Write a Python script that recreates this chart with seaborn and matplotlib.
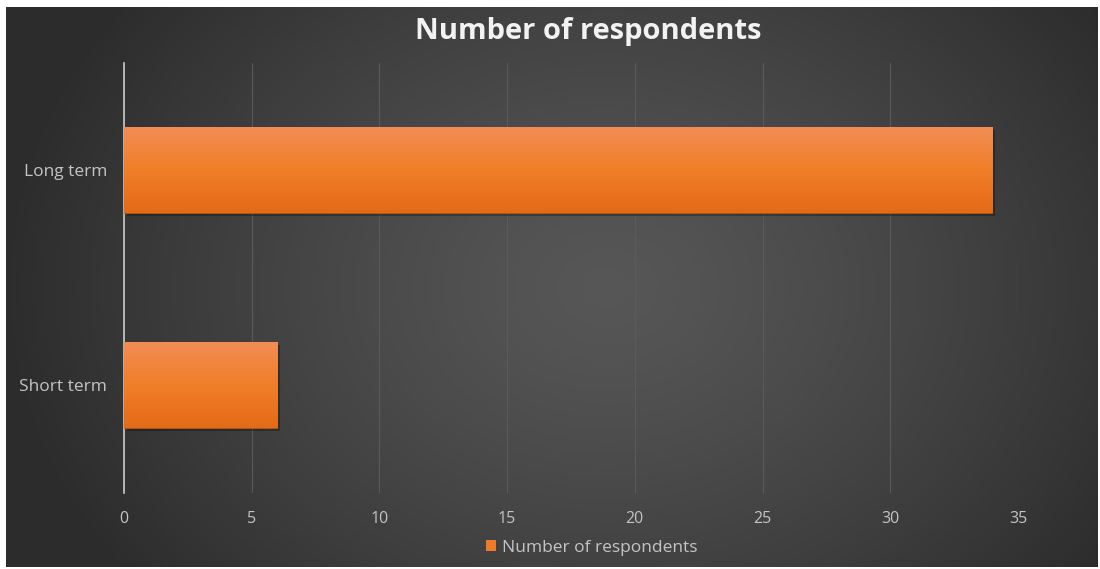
import numpy as np
import pandas as pd
import matplotlib
matplotlib.use("Agg")
import matplotlib.pyplot as plt
import matplotlib.patheffects as pe
from matplotlib.colors import LinearSegmentedColormap
import seaborn as sns

categories = ["Long term", "Short term"]
values = [34, 6]
series_name = "Number of respondents"
x_ticks = [0, 5, 10, 15, 20, 25, 30, 35]

sns.set_theme(style="white")
plt.rcParams["font.family"] = ["Open Sans", "DejaVu Sans"]

fig = plt.figure(figsize=(11, 5.69), dpi=100, facecolor="white")

# background panel with radial gradient
bg = fig.add_axes([0.005, 0.004, 0.992, 0.984], zorder=-10)
ny, nx = 300, 600
yy, xx = np.mgrid[0:ny, 0:nx]
cx, cy = nx * 0.55, ny * 0.5
r = np.sqrt(((xx - cx) / (nx * 0.55)) ** 2 + ((yy - cy) / (ny * 0.85)) ** 2)
r = np.clip(r, 0, 1)
val = 0.34 - 0.165 * r ** 1.3
bg.imshow(np.dstack([val, val, val]), aspect="auto", extent=[0, 1, 0, 1], interpolation="bilinear")
bg.set_axis_off()

ax = fig.add_axes([0.1127, 0.1336, 0.8127, 0.7557])
ax.set_facecolor("none")

df = pd.DataFrame({"category": categories, "value": values})
sns.barplot(data=df, x="value", y="category", orient="h", color="#EE7A2C",
            width=0.4, ax=ax, label=series_name, zorder=3)

ax.set_xlim(0, 35)
ax.set_ylim(1.5, -0.5)

leg = ax.legend(loc="center", bbox_to_anchor=(0.523, -0.128), frameon=False,
                handlelength=0.6, handleheight=0.6, handletextpad=0.3,
                fontsize=12.5, labelcolor="#c4c4c4")
for h in leg.legend_handles:
    h.set_facecolor("#EE7A2C")
    h.set_edgecolor("none")
    h.set_path_effects([])

# gradient fill on bars
cmap = LinearSegmentedColormap.from_list("o", ["#E46A17", "#F07E28", "#F28D55"])
grad = np.linspace(0, 1, 256).reshape(-1, 1)
for p in ax.patches:
    x0, y0 = p.get_x(), p.get_y()
    w, h = p.get_width(), p.get_height()
    p.set_edgecolor("#B85510")
    p.set_linewidth(0.6)
    p.set_path_effects([pe.SimplePatchShadow(offset=(2, -2), shadow_rgbFace="black", alpha=0.28), pe.Normal()])
    im = ax.imshow(grad, cmap=cmap, aspect="auto", extent=[x0, x0 + w, y0 + h, y0],
                   origin="lower", zorder=4, interpolation="bilinear")
    im.set_clip_path(p)
ax.set_xlim(0, 35)
ax.set_ylim(1.5, -0.5)

ax.set_xticks(x_ticks)
ax.set_xticklabels([str(t) for t in x_ticks])
ax.grid(axis="x", color="#5a5a5a", linewidth=0.8, zorder=0)
ax.grid(axis="y", visible=False)
ax.set_axisbelow(True)
for s in ["top", "right", "bottom"]:
    ax.spines[s].set_visible(False)
ax.spines["left"].set_color("#c8c8c8")
ax.spines["left"].set_linewidth(1.2)
ax.tick_params(axis="both", length=0, colors="#c4c4c4")
ax.tick_params(axis="x", pad=13, labelsize=11.5)
ax.tick_params(axis="y", pad=12, labelsize=12.5)
ax.set_xlabel("")
ax.set_ylabel("")

fig.text(0.535, 0.944, "Number of respondents", ha="center", va="center",
         fontsize=21, fontweight="bold", color="#f2f2f2")

fig.savefig("out.png", dpi=100, facecolor="white")
